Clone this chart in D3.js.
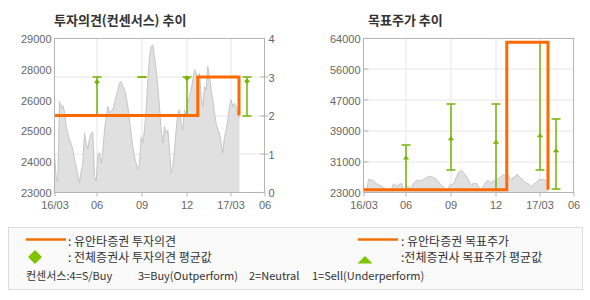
<!DOCTYPE html>
<html><head><meta charset="utf-8">
<script src="https://cdn.jsdelivr.net/npm/d3@7"></script>
<style>body{margin:0;background:#fff}svg{display:block}</style>
</head><body><svg id="c" width="590" height="300"></svg>
<script>
// ---------- data ----------
const priceStart = "2016-03-06";
const priceEnd = "2017-03-18";
const prices = [24500,23600,23400,26550,26300,26400,26150,25600,25300,25050,24900,24660,24300,24010,23700,23370,23800,24140,25310,24920,
24700,25100,25310,25350,23620,23450,24400,24550,24140,24550,25440,25900,26350,26090,26200,26220,26500,26740,27000,27260,
27330,27130,27000,26740,26350,25830,25300,24790,24400,24140,23880,24140,25180,24920,25440,26220,27390,28300,28690,28750,
28300,27780,27130,26350,25440,24920,25570,25310,25440,24660,23750,24010,24660,25440,26090,26220,25700,25440,26220,25960,
26480,26740,27000,27390,27780,27650,27260,27650,26740,26350,27130,27000,27910,27520,27000,26610,26090,25700,25440,25310,
24920,24530,25180,25440,25830,26350,26610,26350,26480,26350,26030,25900];

const xDomain = ["2016-03-06", "2017-05-08"];
const xTickDates = ["2016-03-06","2016-06-01","2016-09-01","2016-12-01","2017-03-01","2017-05-08"];
const xTickLabels = ["16/03","06","09","12","17/03","06"];

const opinionTicks = [0,1,2,3,4];
const priceTicksL = [23000,24200,25400,26600,27800,29000];
const priceTickLabelsL = ["23000","24000","25000","26000","28000","29000"];
const targetTicks = [23000,31200,39400,47600,55800,64000];
const targetTickLabels = ["23000","31000","39000","47000","56000","64000"];

// Yuanta investment opinion / target price (step lines)
const stepDates = ["2016-03-06","2016-12-23","2017-03-17"];
const opinionSteps = [2,3,2];
const targetSteps = [23700,63000,23700];

// consensus of all brokers
const consDates = ["2016-06-01","2016-09-01","2016-12-01","2017-03-01","2017-04-03"];
const opinionMin = [2,3,2,3,2];
const opinionMax = [3,3,3,3,3];
const opinionAvg = [2.87,null,2.97,null,2.89];
const targetMin = [23700,29000,23700,29000,23900];
const targetMax = [35600,46500,46500,63000,42600];
const targetAvg = [32200,37300,36400,38100,34100];

// ---------- drawing ----------
const parse = d3.timeParse("%Y-%m-%d");
const svg = d3.select("#c");
svg.append("rect").attr("width",590).attr("height",300).attr("fill","#fff");

const W = 210, H = 154;
const ORANGE = "#ff6a00", GREEN = "#74b500";
const NUMFONT = "'Liberation Sans', Arial, sans-serif";
const KFONT = "'Noto Sans CJK KR', sans-serif";

const x = d3.scaleTime().domain(xDomain.map(parse)).range([0, W]);
const idxToDate = d3.scaleLinear().domain([0, prices.length-1]).range([parse(priceStart), parse(priceEnd)]);
const crisp = v => Math.round(v - 0.5) + 0.5;

function panel(ox, tx, title, yL, leftTicks, leftLabels, yLine, lineVals, minV, maxV, avgV, markerType, rightAxis) {
  const g = svg.append("g").attr("transform", `translate(${ox},38.5)`);
  svg.append("text").attr("x", tx).attr("y", 25).attr("font-family", KFONT)
     .attr("font-size", 13).attr("font-weight", "bold").attr("fill", "#333").text(title);

  // gridlines
  const gridY = rightAxis ? opinionTicks.slice(1,-1).map(v => yLine(v)) : leftTicks.slice(1,-1).map(v => yL(v));
  g.selectAll(".gy").data(gridY).join("line")
    .attr("x1",0).attr("x2",W).attr("y1",d=>crisp(d)).attr("y2",d=>crisp(d))
    .attr("stroke","#e6e6e6").attr("stroke-width",1);
  const mid = xTickDates.slice(1,-1).map(parse);
  g.selectAll(".gx").data(mid).join("line")
    .attr("x1",d=>crisp(x(d))).attr("x2",d=>crisp(x(d))).attr("y1",0).attr("y2",H)
    .attr("stroke","#e6e6e6").attr("stroke-width",1);

  // price area
  const area = d3.area().x((d,i)=>x(idxToDate(i))).y0(H).y1(d=>yL(d));
  g.append("path").datum(prices).attr("d", area).attr("fill","#e0e0e0");
  const line = d3.line().x((d,i)=>x(idxToDate(i))).y(d=>yL(d));
  g.append("path").datum(prices).attr("d", line).attr("fill","none").attr("stroke","#c6c6c6").attr("stroke-width",1);

  // consensus error bars
  const cons = consDates.map((d,i)=>({x: x(parse(d)), lo: minV[i], hi: maxV[i], avg: avgV[i]}));
  const cg = g.append("g");
  cons.forEach(c => {
    const cx = crisp(c.x);
    cg.append("line").attr("x1",cx).attr("x2",cx).attr("y1",yLine(c.lo)).attr("y2",yLine(c.hi))
      .attr("stroke",GREEN).attr("stroke-width",1.5);
    [c.lo, c.hi].forEach(v => cg.append("line").attr("x1",cx-4.5).attr("x2",cx+4.5)
      .attr("y1",crisp(yLine(v))).attr("y2",crisp(yLine(v))).attr("stroke",GREEN).attr("stroke-width",1.5));
    if (c.avg != null) {
      const ay = yLine(c.avg);
      if (markerType === "diamond") {
        cg.append("path").attr("d",`M${cx},${ay-2.8}L${cx+2.8},${ay}L${cx},${ay+2.8}L${cx-2.8},${ay}Z`).attr("fill",GREEN);
      } else {
        cg.append("path").attr("d",`M${cx},${ay-2.5}L${cx+3.2},${ay+1.5}L${cx-3.2},${ay+1.5}Z`).attr("fill",GREEN);
      }
    }
  });

  // Yuanta step line
  const step = d3.line().curve(d3.curveStepAfter).x(d=>x(parse(d[0]))).y(d=>yLine(d[1]));
  g.append("path").datum(stepDates.map((d,i)=>[d, lineVals[i]])).attr("d", step)
    .attr("fill","none").attr("stroke",ORANGE).attr("stroke-width",3);

  // border
  g.append("rect").attr("x",0).attr("y",0).attr("width",W).attr("height",H)
    .attr("fill","none").attr("stroke","#b4b4b4").attr("stroke-width",1);

  // x ticks + labels
  xTickDates.forEach((d,i) => {
    const txx = crisp(x(parse(d)));
    g.append("line").attr("x1",txx).attr("x2",txx).attr("y1",H).attr("y2",H+4).attr("stroke","#b4b4b4");
    g.append("text").attr("x", txx).attr("y", H+16).attr("text-anchor","middle")
      .attr("font-family",NUMFONT).attr("font-size",11).attr("fill","#666").text(xTickLabels[i]);
  });

  // left axis labels
  leftTicks.forEach((v,i) => {
    g.append("text").attr("x",-3).attr("y", yL(v)+4.5).attr("text-anchor","end")
      .attr("font-family",NUMFONT).attr("font-size",11).attr("fill","#666").text(leftLabels[i]);
    if (!rightAxis && i>0 && i<leftTicks.length-1)
      g.append("line").attr("x1",0).attr("x2",5).attr("y1",crisp(yL(v))).attr("y2",crisp(yL(v))).attr("stroke","#b4b4b4");
  });

  if (rightAxis) {
    opinionTicks.forEach(v => {
      const ty = crisp(yLine(v));
      if (v>0 && v<4) g.append("line").attr("x1",W-4).attr("x2",W+4).attr("y1",ty).attr("y2",ty).attr("stroke","#b4b4b4");
      g.append("text").attr("x", W+4).attr("y", yLine(v)+4.5)
        .attr("font-family",NUMFONT).attr("font-size",11).attr("fill","#666").text(v);
    });
  }
}

const yPriceL = d3.scaleLinear().domain([23000,29000]).range([H,0]);
const yOpinion = d3.scaleLinear().domain([0,4]).range([H,0]);
const yTarget = d3.scaleLinear().domain([23000,64000]).range([H,0]);

panel(54.5, 54, "투자의견(컨센서스) 추이", yPriceL, priceTicksL, priceTickLabelsL, yOpinion, opinionSteps,
      opinionMin, opinionMax, opinionAvg, "diamond", true);
panel(363.5, 368, "목표주가 추이", yTarget, targetTicks, targetTickLabels, yTarget, targetSteps,
      targetMin, targetMax, targetAvg, "triangle", false);

// ---------- legend ----------
const lg = svg.append("g");
lg.append("rect").attr("x",8.5).attr("y",227.5).attr("width",574).attr("height",62)
  .attr("fill","#fafafa").attr("stroke","#dddddd");
const legendLines = [
  {x1:26, x2:66, tx:68, text:": 유안타증권 투자의견"},
  {x1:358, x2:398, tx:401, text:": 유안타증권 목표주가"}
];
legendLines.forEach(d => {
  lg.append("line").attr("x1",d.x1).attr("x2",d.x2).attr("y1",239.5).attr("y2",239.5)
    .attr("stroke","#f07000").attr("stroke-width",2.5);
  lg.append("text").attr("x",d.tx).attr("y",245.5).attr("font-family",KFONT).attr("font-size",12)
    .attr("fill","#333").text(d.text);
});
lg.append("path").attr("d","M35,250L42,257L35,264L28,257Z").attr("fill","#7fc400");
lg.append("text").attr("x",68).attr("y",262).attr("font-family",KFONT).attr("font-size",12)
  .attr("fill","#333").text(": 전체증권사 투자의견 평균값");
lg.append("path").attr("d","M365,256L372.5,263.5L357.5,263.5Z").attr("fill","#7fc400");
lg.append("text").attr("x",401).attr("y",262).attr("font-family",KFONT).attr("font-size",12)
  .attr("fill","#333").text(":전체증권사 목표주가 평균값");
const consText = [
  {x:26, t:"컨센서스:4=S/Buy"},
  {x:138, t:"3=Buy(Outperform)"},
  {x:249, t:"2=Neutral"},
  {x:312, t:"1=Sell(Underperform)"}
];
consText.forEach(d => lg.append("text").attr("x",d.x).attr("y",279.5).attr("font-family",KFONT)
  .attr("font-size",11).attr("fill","#333").text(d.t));
</script></body></html>
